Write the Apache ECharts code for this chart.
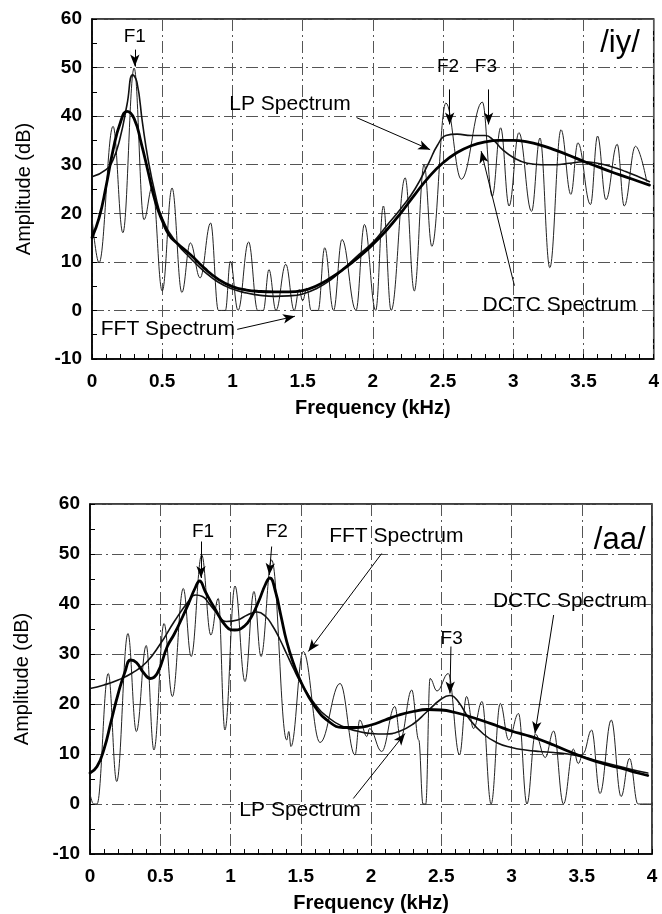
<!DOCTYPE html>
<html><head><meta charset="utf-8">
<script src="https://cdn.jsdelivr.net/npm/echarts@6/dist/echarts.min.js"></script>
<style>html,body{margin:0;padding:0;background:#fff}#c{width:662px;height:914px}</style>
</head><body><div id="c"></div>
<script>
// ---------- tick values ----------
const freqTicks = [0, 0.5, 1, 1.5, 2, 2.5, 3, 3.5, 4];
const ampTicks = [-10, 0, 10, 20, 30, 40, 50, 60];

// ---------- /iy/ panel ----------
const iyFftFreq = [0.00,0.05,0.15,0.22,0.30,0.37,0.43,0.50,0.57,0.64,0.70,0.77,0.845,0.90,0.95,0.985,1.04,1.115,1.18,1.22,1.26,1.31,1.38,1.44,1.475,1.50,1.53,1.56,1.61,1.657,1.72,1.78,1.88,1.94,2.02,2.075,2.13,2.23,2.295,2.365,2.42,2.52,2.63,2.78,2.85,2.91,2.97,3.04,3.13,3.19,3.26,3.34,3.41,3.46,3.55,3.60,3.66,3.74,3.79,3.87,3.95];
const iyFftDb   = [19.0,9.8,37.9,16.0,49.9,18.7,25.5,4.0,25.2,3.7,13.9,6.7,18.0,0,0,10.1,0,14.1,0,0,8.4,0,9.5,0,4.3,2.0,4.6,0,0,12.9,0,14.6,0,17.7,0,21.5,0,27.3,4.0,30.0,13.2,42.7,27.0,42.9,23.5,37.6,21.5,36.6,20.4,35.5,8.8,37.2,23.9,34.5,21.8,35.9,22.8,34.2,21.5,33.8,26.6];

const iyLpFreq = [0.00,0.10,0.15,0.20,0.25,0.29,0.32,0.36,0.40,0.45,0.50,0.60,0.70,0.80,0.90,1.00,1.10,1.20,1.30,1.40,1.50,1.60,1.70,1.80,1.90,2.00,2.10,2.20,2.30,2.40,2.46,2.52,2.60,2.70,2.80,2.86,2.92,3.00,3.10,3.20,3.30,3.40,3.50,3.60,3.70,3.80,3.90,3.97];
const iyLpDb   = [27.5,29.0,31.0,35.5,42.5,48.5,47.0,38.5,31.0,24.0,19.0,14.0,10.8,8.0,5.8,4.4,3.6,3.1,2.9,3.0,3.4,4.5,6.3,8.8,11.5,14.0,17.5,21.0,25.0,30.5,34.0,36.0,36.3,36.0,36.0,35.0,33.2,31.5,30.3,30.0,30.0,30.3,30.6,30.3,29.6,28.6,27.4,26.5];

const iyDctcFreq = [0.00,0.05,0.10,0.15,0.20,0.25,0.30,0.35,0.40,0.45,0.50,0.55,0.60,0.70,0.80,0.90,1.00,1.10,1.20,1.30,1.40,1.50,1.60,1.70,1.80,1.90,2.00,2.10,2.20,2.30,2.40,2.50,2.60,2.70,2.80,2.90,3.00,3.10,3.20,3.30,3.40,3.50,3.60,3.70,3.80,3.90,3.97];
const iyDctcDb   = [15.0,19.0,25.5,33.0,38.5,41.0,39.5,34.5,28.5,22.5,18.5,15.5,14.0,11.5,8.7,6.4,4.9,4.2,3.9,3.8,3.8,4.1,5.1,6.7,8.7,11.0,13.6,16.6,20.1,23.9,27.5,30.4,32.5,33.9,34.7,35.0,35.0,34.7,34.0,33.0,31.9,30.7,29.6,28.5,27.5,26.5,25.8];

// ---------- /aa/ panel ----------
const aaFftFreq = [0.00,0.025,0.05,0.13,0.19,0.27,0.33,0.40,0.455,0.527,0.586,0.664,0.72,0.795,0.86,0.913,0.96,1.032,1.103,1.167,1.217,1.293,1.40,1.415,1.43,1.518,1.637,1.78,1.886,1.92,1.97,1.99,2.076,2.17,2.21,2.29,2.34,2.37,2.39,2.42,2.47,2.55,2.63,2.68,2.73,2.79,2.855,2.92,2.98,3.05,3.11,3.17,3.24,3.30,3.37,3.44,3.475,3.51,3.57,3.63,3.71,3.78,3.84,3.90,4.00];
const aaFftDb   = [2.0,0,0,26.1,4.5,34.1,14.5,31.7,10.8,36.1,21.5,43.1,29.5,49.8,33.8,41.1,14.8,43.6,24.5,42.5,29.5,48.8,12.8,14.5,11.5,30.5,12.3,24.1,9.8,16.8,13.5,15.1,10.5,19.5,13.1,22.8,12.8,0,0,25.1,22.6,26.1,9.8,21.5,15.1,20.5,0,20.1,12.8,18.1,0,14.0,9.3,14.6,0,11.0,8.1,10.1,14.8,2.1,16.8,1.5,9.1,0,0];

const aaLpFreq = [0.00,0.10,0.20,0.30,0.40,0.50,0.60,0.70,0.75,0.80,0.85,0.90,0.97,1.05,1.12,1.19,1.25,1.30,1.35,1.40,1.45,1.50,1.60,1.70,1.80,1.90,2.00,2.10,2.20,2.30,2.40,2.50,2.56,2.62,2.70,2.80,2.90,3.00,3.10,3.20,3.30,3.40,3.50,3.60,3.70,3.80,3.90,3.97];
const aaLpDb   = [23.1,23.8,24.8,26.2,28.3,32.0,36.5,40.5,41.8,41.5,40.0,38.3,36.5,36.8,37.8,38.4,37.5,35.6,33.0,30.0,27.0,24.3,20.0,17.2,15.5,14.6,14.1,14.0,14.5,16.0,18.5,21.0,21.7,20.5,17.0,14.0,12.2,11.3,10.8,10.5,10.3,10.0,9.5,8.7,8.0,7.3,6.6,6.2];

const aaDctcFreq = [0.00,0.05,0.10,0.15,0.20,0.25,0.29,0.33,0.38,0.43,0.48,0.55,0.60,0.66,0.70,0.75,0.78,0.82,0.88,0.97,1.03,1.10,1.15,1.20,1.25,1.28,1.32,1.36,1.40,1.45,1.50,1.60,1.70,1.80,1.90,2.00,2.10,2.20,2.30,2.40,2.50,2.60,2.70,2.80,2.90,3.00,3.10,3.20,3.30,3.40,3.50,3.60,3.70,3.80,3.90,3.97];
const aaDctcDb   = [6.2,7.5,11.0,16.5,22.0,26.5,28.8,28.3,26.3,25.1,26.2,31.5,34.0,37.5,40.0,43.3,44.6,42.5,39.5,35.5,34.8,35.6,37.5,40.5,44.0,45.2,42.5,37.5,32.5,28.0,24.5,19.5,16.5,15.3,15.3,15.8,16.8,17.8,18.5,18.9,18.8,18.3,17.5,16.6,15.6,14.6,13.8,12.9,11.8,10.6,9.5,8.5,7.7,7.0,6.2,5.7];

// ---------- annotations (data coordinates) ----------
const iyTexts = [
  {t:'F1', x:0.305, y:56.4, s:19},
  {t:'LP Spectrum', x:1.41, y:42.4, s:21},
  {t:'F2', x:2.535, y:50.2, s:19},
  {t:'F3', x:2.805, y:50.2, s:19},
  {t:'DCTC Spectrum', x:3.33, y:1.0, s:21},
  {t:'FFT Spectrum', x:0.54, y:-3.9, s:21},
  {t:'/iy/', x:3.76, y:55.0, s:31}
];
const iyArrows = [
  [0.305,53.7,0.305,50.2],
  [1.884,39.7,2.408,33.1],
  [2.547,45.5,2.547,38.3],
  [2.824,45.5,2.824,38.3],
  [3.008,5.1,2.771,32.8],
  [1.034,-3.9,1.445,-1.2]
];
const aaTexts = [
  {t:'F1', x:0.804, y:54.5, s:19},
  {t:'F2', x:1.329, y:54.5, s:19},
  {t:'FFT Spectrum', x:2.18, y:53.6, s:21},
  {t:'/aa/', x:3.77, y:52.8, s:31},
  {t:'DCTC Spectrum', x:3.416, y:40.6, s:21},
  {t:'F3', x:2.574, y:33.1, s:19},
  {t:'LP Spectrum', x:1.495, y:-1.2, s:21}
];
const aaArrows = [
  [0.79,52.5,0.79,45.2],
  [1.293,51.5,1.276,45.8],
  [2.076,50.1,1.554,30.5],
  [3.30,37.8,3.167,14.1],
  [2.569,31.5,2.562,22.1],
  [1.874,1.1,2.242,14.1]
];

const FONT = '"Liberation Sans", Arial, Helvetica, sans-serif';
const zip = (a, b) => a.map((v, i) => [v, b[i]]);

function xAxis(gi) {
  return {
    type: 'value', gridIndex: gi, min: freqTicks[0], max: freqTicks[freqTicks.length-1],
    interval: freqTicks[1] - freqTicks[0],
    axisLine: {show: true, onZero: false, lineStyle: {color: '#000', width: 1.5}},
    axisTick: {show: true, inside: true, length: 5, lineStyle: {color: '#000'}},
    minorTick: {show: true, splitNumber: 5, length: 5, lineStyle: {color: '#000'}},
    splitLine: {show: true, lineStyle: {color: '#555', width: 1, type: [12, 4, 2, 4]}},
    axisLabel: {fontSize: 19, fontWeight: 'bold', color: '#000', margin: 13, fontFamily: FONT},
    name: 'Frequency (kHz)', nameLocation: 'middle', nameGap: 39,
    nameTextStyle: {fontSize: 20, fontWeight: 'bold', color: '#000', fontFamily: FONT}
  };
}
function yAxis(gi) {
  return {
    type: 'value', gridIndex: gi, min: ampTicks[0], max: ampTicks[ampTicks.length-1],
    interval: ampTicks[1] - ampTicks[0],
    axisLine: {show: true, onZero: false, lineStyle: {color: '#000', width: 1.5}},
    axisTick: {show: true, inside: true, length: 5, lineStyle: {color: '#000'}},
    minorTick: {show: true, splitNumber: 2, length: 5, lineStyle: {color: '#000'}},
    splitLine: {show: true, lineStyle: {color: '#555', width: 1, type: [12, 4, 2, 4]}},
    axisLabel: {fontSize: 19, fontWeight: 'bold', color: '#000', margin: 10, fontFamily: FONT},
    name: 'Amplitude (dB)', nameLocation: 'middle', nameGap: 58, nameRotate: 90,
    nameTextStyle: {fontSize: 20, color: '#000', fontFamily: FONT}
  };
}
function lineSeries(name, gi, fx, fy, width, color, smooth, mono) {
  const s = {
    name, type: 'line', xAxisIndex: gi, yAxisIndex: gi, data: zip(fx, fy),
    showSymbol: false, smooth: smooth, silent: true,
    lineStyle: {width, color, cap: 'round', join: 'round'}, z: 3
  };
  if (mono) s.smoothMonotone = 'x';
  return s;
}
function annotSeries(gi, texts, arrows) {
  return {
    type: 'line', xAxisIndex: gi, yAxisIndex: gi, data: [], silent: true, z: 5,
    markPoint: {
      silent: true, symbol: 'circle', symbolSize: 1, itemStyle: {color: 'rgba(0,0,0,0)'},
      data: texts.map(a => ({
        coord: [a.x, a.y], value: a.t,
        label: {show: true, position: 'inside', formatter: a.t, color: '#000', fontSize: a.s, fontFamily: FONT}
      }))
    },
    markLine: {
      silent: true, symbol: ['none', 'arrow'], symbolSize: [7, 12], precision: 3,
      label: {show: false},
      lineStyle: {color: '#000', width: 1, type: 'solid'},
      data: arrows.map(a => [{coord: [a[0], a[1]]}, {coord: [a[2], a[3]]}])
    }
  };
}

const chart = echarts.init(document.getElementById('c'), null, {renderer: 'canvas'});
chart.setOption({
  animation: false,
  backgroundColor: '#fff',
  grid: [
    {left: 92, top: 19, width: 564, height: 340, show: true, borderColor: '#000', borderWidth: 1.5, backgroundColor: 'transparent'},
    {left: 90, top: 504, width: 562, height: 350, show: true, borderColor: '#000', borderWidth: 1.5, backgroundColor: 'transparent'}
  ],
  xAxis: [xAxis(0), xAxis(1)],
  yAxis: [yAxis(0), yAxis(1)],
  series: [
    lineSeries('FFT /iy/', 0, iyFftFreq, iyFftDb, 1, '#222', 0.4, true),
    lineSeries('LP /iy/', 0, iyLpFreq, iyLpDb, 1.6, '#111', 0.5, false),
    lineSeries('DCTC /iy/', 0, iyDctcFreq, iyDctcDb, 2.8, '#000', 0.5, false),
    annotSeries(0, iyTexts, iyArrows),
    lineSeries('FFT /aa/', 1, aaFftFreq, aaFftDb, 1, '#222', 0.4, true),
    lineSeries('LP /aa/', 1, aaLpFreq, aaLpDb, 1.6, '#111', 0.5, false),
    lineSeries('DCTC /aa/', 1, aaDctcFreq, aaDctcDb, 2.8, '#000', 0.5, false),
    annotSeries(1, aaTexts, aaArrows)
  ]
});
</script>
</body></html>
